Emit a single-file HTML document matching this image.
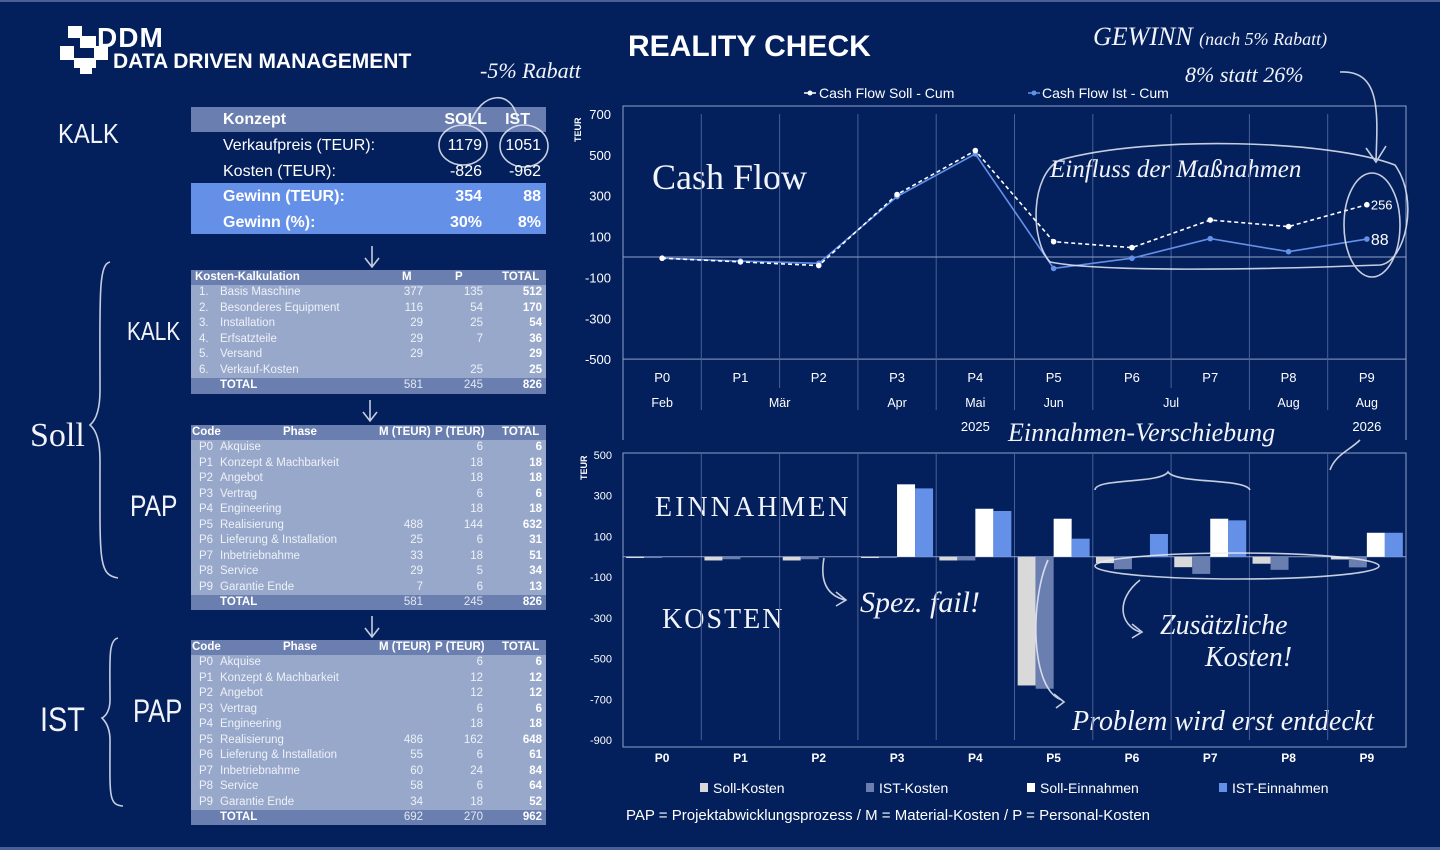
<!DOCTYPE html>
<html><head><meta charset="utf-8">
<style>
html,body{margin:0;padding:0;}
body{width:1440px;height:850px;background:#03205c;position:relative;overflow:hidden;font-family:"Liberation Sans",sans-serif;color:#fff;}
.abs{position:absolute;white-space:nowrap;}
.hand{font-family:"Liberation Serif",serif;font-style:italic;color:#f2f4fa;position:absolute;white-space:nowrap;}
.cell{position:absolute;white-space:nowrap;font-size:11.5px;line-height:15px;}
svg{position:absolute;left:0;top:0;}
</style></head>
<body>
<div class="abs" style="left:0;top:0;width:1440px;height:2px;background:#4a5f95"></div>
<div class="abs" style="left:0;top:847px;width:1440px;height:3px;background:#4a5f95"></div>

<div class="abs" style="left:60px;top:26px;width:50px;height:48px;">
  <div style="position:absolute;left:8px;top:0;width:14px;height:12px;background:#fff"></div>
  <div style="position:absolute;left:20px;top:10px;width:16px;height:12px;background:#fff"></div>
  <div style="position:absolute;left:0;top:20px;width:14px;height:14px;background:#fff"></div>
  <div style="position:absolute;left:34px;top:20px;width:14px;height:14px;background:#fff"></div>
  <div style="position:absolute;left:14px;top:32px;width:22px;height:10px;background:#fff"></div>
  <div style="position:absolute;left:20px;top:40px;width:12px;height:8px;background:#fff"></div>
</div>
<div class="abs" style="left:97px;top:24px;font-size:28px;font-weight:bold;letter-spacing:1px;line-height:28px">DDM</div>
<div class="abs" style="left:113px;top:50px;font-size:21px;font-weight:bold;line-height:24px">DATA DRIVEN MANAGEMENT</div>

<div class="abs" style="left:628px;top:29px;font-size:30px;font-weight:bold;line-height:36px">REALITY CHECK</div>

<div class="abs" style="left:191px;top:107px;width:355px;height:127px;font-size:16px;">
  <div style="position:absolute;left:0;top:0;width:355px;height:25px;background:#6a7fb0"></div>
  <div style="position:absolute;left:0;top:76px;width:355px;height:51px;background:#6590e8"></div>
  <div class="abs" style="left:32px;top:4px;font-weight:bold">Konzept</div>
  <div class="abs" style="right:59px;top:4px;font-weight:bold">SOLL</div>
  <div class="abs" style="right:16px;top:4px;font-weight:bold">IST</div>
  <div class="abs" style="left:32px;top:30px">Verkaufpreis (TEUR):</div>
  <div class="abs" style="right:64px;top:30px">1179</div>
  <div class="abs" style="right:5px;top:30px">1051</div>
  <div class="abs" style="left:32px;top:56px">Kosten (TEUR):</div>
  <div class="abs" style="right:64px;top:56px">-826</div>
  <div class="abs" style="right:5px;top:56px">-962</div>
  <div class="abs" style="left:32px;top:81px;font-weight:bold">Gewinn (TEUR):</div>
  <div class="abs" style="right:64px;top:81px;font-weight:bold">354</div>
  <div class="abs" style="right:5px;top:81px;font-weight:bold">88</div>
  <div class="abs" style="left:32px;top:107px;font-weight:bold">Gewinn (%):</div>
  <div class="abs" style="right:64px;top:107px;font-weight:bold">30%</div>
  <div class="abs" style="right:5px;top:107px;font-weight:bold">8%</div>
</div>

<div id="tables"></div>

<div class="hand" style="left:480px;top:58px;font-size:22px">-5% Rabatt</div>
<div class="hand" style="left:1093px;top:22px;font-size:26px">GEWINN <span style="font-size:18px">(nach 5% Rabatt)</span></div>
<div class="hand" style="left:1185px;top:62px;font-size:22px">8% statt 26%</div>
<div class="hand" style="left:58px;top:118px;font-size:28px;font-style:normal;font-family:'Liberation Sans',sans-serif;transform:scaleX(0.85);transform-origin:left">KALK</div>
<div class="hand" style="left:127px;top:316px;font-size:26px;font-style:normal;font-family:'Liberation Sans',sans-serif;transform:scaleX(0.8);transform-origin:left">KALK</div>
<div class="hand" style="left:30px;top:417px;font-size:34px;font-style:normal">Soll</div>
<div class="hand" style="left:130px;top:490px;font-size:30px;font-style:normal;font-family:'Liberation Sans',sans-serif;transform:scaleX(0.82);transform-origin:left">PAP</div>
<div class="hand" style="left:40px;top:701px;font-size:34px;font-style:normal;font-family:'Liberation Sans',sans-serif;transform:scaleX(0.85);transform-origin:left">IST</div>
<div class="hand" style="left:133px;top:693px;font-size:32px;font-style:normal;font-family:'Liberation Sans',sans-serif;transform:scaleX(0.8);transform-origin:left">PAP</div>
<div class="hand" style="left:652px;top:156px;font-size:36px;font-style:normal">Cash Flow</div>
<div class="hand" style="left:1050px;top:156px;font-size:25px">Einfluss der Maßnahmen</div>
<div class="hand" style="left:1008px;top:418px;font-size:26px">Einnahmen-Verschiebung</div>
<div class="hand" style="left:655px;top:492px;font-size:28px;font-style:normal;letter-spacing:3px">EINNAHMEN</div>
<div class="hand" style="left:662px;top:604px;font-size:28px;font-style:normal;letter-spacing:2px">KOSTEN</div>
<div class="hand" style="left:860px;top:586px;font-size:30px">Spez. fail!</div>
<div class="hand" style="left:1160px;top:610px;font-size:28px">Zusätzliche</div>
<div class="hand" style="left:1205px;top:642px;font-size:28px">Kosten!</div>
<div class="hand" style="left:1072px;top:706px;font-size:28px">Problem wird erst entdeckt</div>

<div class="abs" style="left:626px;top:807px;font-size:15px">PAP = Projektabwicklungsprozess / M = Material-Kosten / P = Personal-Kosten</div>

<svg id="chart" width="1440" height="850"></svg>

<script>
const kalkNames = ["Basis Maschine","Besonderes Equipment","Installation","Erfsatzteile","Versand","Verkauf-Kosten"];
const kalkM = [377,116,29,29,29,""];
const kalkP = [135,54,25,7,"",25];
const kalkT = [512,170,54,36,29,25];
const phaseNames = ["Akquise","Konzept & Machbarkeit","Angebot","Vertrag","Engineering","Realisierung","Lieferung & Installation","Inbetriebnahme","Service","Garantie Ende"];
const sollM = ["","","","","",488,25,33,29,7];
const sollP = [6,18,18,6,18,144,6,18,5,6];
const sollT = [6,18,18,6,18,632,31,51,34,13];
const istM = ["","","","","",486,55,60,58,34];
const istP = [6,12,12,6,18,162,6,24,6,18];
const istT = [6,12,12,6,18,648,61,84,64,52];

const tables = document.getElementById('tables');
function cell(parent, text, css){
  const d = document.createElement('div');
  d.className = 'cell';
  d.textContent = text;
  d.style.cssText += css;
  parent.appendChild(d);
  return d;
}
function makeTable(name, top, headers, codes, names, M, P, T, tot){
  const rh = 15.45;
  const n = names.length + 2;
  const t = document.createElement('div');
  
  
  t.style.cssText = 'position:absolute;left:191px;top:'+top+'px;width:355px;height:'+(n*rh)+'px;background:#98a8ca;';
  tables.appendChild(t);
  const h = document.createElement('div');
  h.style.cssText = 'position:absolute;left:0;top:0;width:355px;height:'+rh+'px;background:#6a7fb0';
  t.appendChild(h);
  const f = document.createElement('div');
  f.style.cssText = 'position:absolute;left:0;top:'+((n-1)*rh)+'px;width:355px;height:'+rh+'px;background:#6a7fb0';
  t.appendChild(f);
  headers.forEach(hd => cell(t, hd[0], 'top:0;font-weight:bold;'+hd[1]));
  for(let i=0;i<names.length;i++){
    const y = (i+1)*rh;
    cell(t, codes[i], 'top:'+y+'px;left:8px;color:#eef1f8');
    cell(t, names[i], 'top:'+y+'px;left:29px;color:#eef1f8');
    cell(t, String(M[i]), 'top:'+y+'px;right:123px;color:#eef1f8');
    cell(t, String(P[i]), 'top:'+y+'px;right:63px;color:#eef1f8');
    cell(t, String(T[i]), 'top:'+y+'px;right:4px;font-weight:bold');
  }
  const y = (n-1)*rh;
  cell(t, 'TOTAL', 'top:'+y+'px;left:29px;font-weight:bold');
  cell(t, String(tot[0]), 'top:'+y+'px;right:123px;color:#e4e8f2');
  cell(t, String(tot[1]), 'top:'+y+'px;right:63px;color:#e4e8f2');
  cell(t, String(tot[2]), 'top:'+y+'px;right:4px;font-weight:bold');
}
makeTable('kosten-kalkulation-table', 270, [["Kosten-Kalkulation","left:4px"],["M","left:211px"],["P","left:264px"],["TOTAL","left:311px"]],
  ["1.","2.","3.","4.","5.","6."], kalkNames, kalkM, kalkP, kalkT, [581,245,826]);
const codes = ["P0","P1","P2","P3","P4","P5","P6","P7","P8","P9"];
const phHead = [["Code","left:1px"],["Phase","left:92px"],["M (TEUR)","left:188px"],["P (TEUR)","left:244px"],["TOTAL","left:311px"]];
makeTable('soll-pap-table', 425, phHead, codes, phaseNames, sollM, sollP, sollT, [581,245,826]);
makeTable('ist-pap-table', 640, phHead, codes, phaseNames, istM, istP, istT, [692,270,962]);

const categories = ["P0","P1","P2","P3","P4","P5","P6","P7","P8","P9"];
const months = ["Feb","Mär","Apr","Mai","Jun","Jul","Aug","Aug"];
const cfSoll = [-6,-24,-42,306,521,75,46,181,149,256];
const cfIst = [-6,-20,-31,296,505,-56,-6,90,26,88];
const cfTicks = [700,500,300,100,-100,-300,-500];
const sollKosten = [-6,-18,-18,-6,-18,-632,-31,-51,-34,-13];
const istKosten = [-6,-12,-12,-6,-18,-648,-61,-84,-64,-52];
const sollEinnahmen = [0,0,0,356,236,187,0,187,0,118];
const istEinnahmen = [0,0,0,336,225,89,112,179,0,118];
const barTicks = [500,300,100,-100,-300,-500,-700,-900];

const NS = 'http://www.w3.org/2000/svg';
const svg = document.getElementById('chart');
function el(tag, attrs, parent){
  const e = document.createElementNS(NS, tag);
  for(const k in attrs) e.setAttribute(k, attrs[k]);
  (parent||svg).appendChild(e);
  return e;
}
function txt(s, attrs, parent){ const e = el('text', attrs, parent); e.textContent = s; return e; }

const X0 = 623, X1 = 1406, CW = (X1-X0)/categories.length;
const cx = i => X0 + (i+0.5)*CW;
const cfZero = 257, cfK = 0.2042;
const cy = v => cfZero - v*cfK;
const bZero = 556.8, bK = 0.2036;
const by = v => bZero - v*bK;

const g1 = el('g', {});


el('rect', {x:X0, y:106, width:X1-X0, height:cy(-500)-106, fill:'none', stroke:'#8fa0c8', 'stroke-width':1}, g1);
el('line', {x1:X0, x2:X0, y1:106, y2:440, stroke:'#8fa0c8'}, g1);
el('line', {x1:X1, x2:X1, y1:106, y2:440, stroke:'#8fa0c8'}, g1);
for(let i=1;i<categories.length;i++){
  const x = X0 + i*CW;
  el('line', {x1:x, x2:x, y1:cy(700), y2:cy(-500), stroke:'#4a5f95', 'stroke-width':1}, g1);
}
[1,3,4,5,6,8,9].forEach(i => { const x = X0+i*CW; el('line',{x1:x,x2:x,y1:cy(-500),y2:410,stroke:'#4a5f95'},g1); });
[2,7].forEach(i => { const x = X0+i*CW; el('line',{x1:x,x2:x,y1:cy(-500),y2:388,stroke:'#4a5f95'},g1); });
el('line', {x1:X0, x2:X1, y1:cy(0), y2:cy(0), stroke:'#8fa0c8'}, g1);
cfTicks.forEach(t => {
  const e = txt(String(t), {x:611, y:cy(t)+5, 'text-anchor':'end', fill:'#fff', 'font-size':13}, g1);
  
  
});
const ty1 = txt('TEUR', {x:0, y:0, fill:'#fff', 'font-size':9, 'font-weight':'bold', transform:'translate(581,142) rotate(-90)'}, g1);


categories.forEach((c,i) => {
  const e = txt(c, {x:cx(i), y:382, 'text-anchor':'middle', fill:'#fff', 'font-size':13}, g1);
  
  
});
const monthPos = [0,1.5,3,4,5,6.5,8,9];
months.forEach((m,k) => {
  const e = txt(m, {x:cx(monthPos[k]), y:407, 'text-anchor':'middle', fill:'#fff', 'font-size':12.5}, g1);
  
  
});
txt('2025', {x:cx(4), y:431, 'text-anchor':'middle', fill:'#fff', 'font-size':13}, g1);
txt('2026', {x:cx(9), y:431, 'text-anchor':'middle', fill:'#fff', 'font-size':13}, g1);
el('line',{x1:804,x2:816,y1:93,y2:93,stroke:'#fff','stroke-width':1.5},g1);
el('circle',{cx:810,cy:93,r:2.5,fill:'#fff'},g1);
const lg1 = txt('Cash Flow  Soll - Cum', {x:819, y:98, fill:'#fff', 'font-size':14}, g1);


el('line',{x1:1028,x2:1040,y1:93,y2:93,stroke:'#6590e8','stroke-width':1.5},g1);
el('circle',{cx:1034,cy:93,r:2.5,fill:'#6590e8'},g1);
const lg2 = txt('Cash Flow Ist - Cum', {x:1042, y:98, fill:'#fff', 'font-size':14}, g1);


const pIst = el('polyline', {points: cfIst.map((v,i)=>cx(i)+','+cy(v)).join(' '), fill:'none', stroke:'#6590e8', 'stroke-width':1.6}, g1);


const pSoll = el('polyline', {points: cfSoll.map((v,i)=>cx(i)+','+cy(v)).join(' '), fill:'none', stroke:'#fff', 'stroke-width':1.6, 'stroke-dasharray':'4 3'}, g1);


cfIst.forEach((v,i) => {
  const c = el('circle', {cx:cx(i), cy:cy(v), r:2.8, fill:'#6590e8'}, g1);
  
  
});
cfSoll.forEach((v,i) => {
  const c = el('circle', {cx:cx(i), cy:cy(v), r:2.8, fill:'#fff'}, g1);
  
  
});
const last = categories.length-1;
txt(String(cfSoll[last]), {x:cx(last)+4, y:cy(cfSoll[last])+5, fill:'#fff', 'font-size':13}, g1);
txt(String(cfIst[last]), {x:cx(last)+4, y:cy(cfIst[last])+6, fill:'#fff', 'font-size':16}, g1);

const g2 = el('g', {});


el('rect', {x:X0, y:453, width:X1-X0, height:294, fill:'none', stroke:'#8fa0c8'}, g2);
for(let i=1;i<categories.length;i++){
  const x = X0 + i*CW;
  el('line', {x1:x, x2:x, y1:453, y2:by(-900), stroke:'#4a5f95'}, g2);
}
el('line', {x1:X0, x2:X1, y1:by(0), y2:by(0), stroke:'#8fa0c8'}, g2);
barTicks.forEach(t => {
  const e = txt(String(t), {x:612, y:by(t)+4, 'text-anchor':'end', fill:'#fff', 'font-size':11}, g2);
  
  
});
txt('TEUR', {x:0, y:0, fill:'#fff', 'font-size':9, 'font-weight':'bold', transform:'translate(587,480) rotate(-90)'}, g2);
categories.forEach((c,i) => {
  const e = txt(c, {x:cx(i), y:762, 'text-anchor':'middle', fill:'#fff', 'font-size':12, 'font-weight':'bold'}, g2);
  
  
});
const BW = 18;
const series = [[sollKosten,'#d9d9d9',-36],[istKosten,'#6a7fb0',-18],[sollEinnahmen,'#ffffff',0],[istEinnahmen,'#6590e8',18]];
series.forEach(s => {
  s[0].forEach((v,i) => {
    const y = Math.min(by(v), by(0));
    const h = Math.abs(by(v)-by(0));
    const r = el('rect', {x:cx(i)+s[2], y:y, width:BW, height:Math.max(h,0.01), fill:s[1]}, g2);
    
    
  });
});
const legItems = [['Soll-Kosten','#d9d9d9',700],['IST-Kosten','#6a7fb0',866],['Soll-Einnahmen','#ffffff',1027],['IST-Einnahmen','#6590e8',1219]];
legItems.forEach(l => {
  const r = el('rect', {x:l[2], y:783, width:8, height:9, fill:l[1]}, g2);
  
  
  const t = txt(l[0], {x:l[2]+13, y:793, fill:'#fff', 'font-size':14}, g2);
  
  
});

const g3 = el('g', {fill:'none', stroke:'#e8ecf6', 'stroke-width':1.6, opacity:0.85});


el('ellipse', {cx:463, cy:145, rx:24, ry:20}, g3);
el('ellipse', {cx:524, cy:146, rx:24, ry:21}, g3);
el('path', {d:'M470 125 C480 90 515 88 518 123'}, g3);
el('path', {d:'M1060 160 C1150 135 1330 140 1395 165 C1420 200 1405 262 1380 265 C1250 270 1100 272 1050 262 C1030 240 1030 175 1060 160'}, g3);
el('ellipse', {cx:1372, cy:225, rx:28, ry:52}, g3);
el('path', {d:'M1340 72 C1380 70 1378 110 1376 160 M1366 148 L1376 162 L1386 146'}, g3);
el('path', {d:'M1095 490 C1095 478 1160 484 1168 472 C1176 484 1245 478 1250 490'}, g3);
el('ellipse', {cx:1237, cy:566, rx:142, ry:13}, g3);
el('path', {d:'M1140 580 C1115 600 1120 625 1140 632 M1132 624 L1142 632 L1132 638'}, g3);
el('path', {d:'M824 558 C820 580 826 595 845 600 M836 592 L846 600 L836 606'}, g3);
el('path', {d:'M1048 560 C1030 600 1030 690 1062 700 M1054 694 L1064 702 L1056 708'}, g3);
el('path', {d:'M1360 440 C1350 450 1335 455 1330 470'}, g3);
el('path', {d:'M372 246 L372 266 M365 258 L372 267 L379 258'}, g3);
el('path', {d:'M370 400 L370 420 M363 412 L370 421 L377 412'}, g3);
el('path', {d:'M372 616 L372 636 M365 628 L372 637 L379 628'}, g3);
el('path', {d:'M110 262 C98 264 100 300 100 390 C100 410 96 420 90 425 C96 430 100 440 100 460 C100 560 98 575 118 578'}, g3);
el('path', {d:'M118 638 C108 640 110 660 110 700 C110 710 106 716 102 718 C106 722 110 728 110 740 C110 795 108 805 123 806'}, g3);
</script>
</body></html>
